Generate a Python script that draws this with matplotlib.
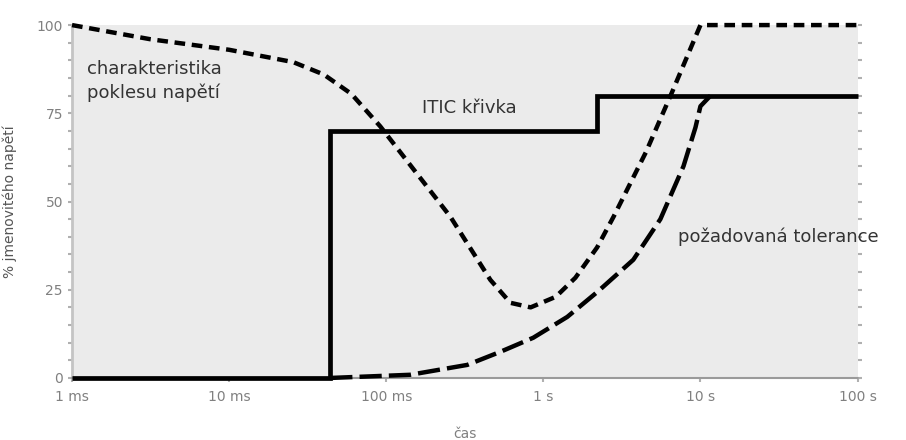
import numpy as np
import matplotlib
matplotlib.use("Agg")
from matplotlib import pyplot as plt
from matplotlib.ticker import FixedLocator, NullLocator

# ITIC curve (solid)
itic_t = [0.001, 0.044, 0.044, 2.2, 2.2, 100]
itic_v = [0, 0, 70, 70, 80, 80]

# voltage sag characteristic (short dashes)
sag_t = [0.001, 0.00314, 0.01, 0.0256, 0.04, 0.06, 0.0916, 0.15, 0.256, 0.46, 0.617,
         0.83, 1.2, 1.6, 2.2, 2.8, 4.5, 6.6, 10, 100]
sag_v = [100, 96, 93, 89.5, 86, 80.5, 71.3, 59, 45.7, 27.8, 21.3,
         20, 23, 28.4, 37, 45.7, 64, 81, 100, 100]

# required tolerance (long dashes)
tol_t = [0.044, 0.142, 0.328, 0.532, 0.863, 1.42, 2.21, 3.74, 5.56, 7.8, 9.3, 10, 11.6]
tol_v = [0, 0.9, 3.7, 7.4, 11.4, 17.3, 24.4, 33.5, 45, 60, 71, 77, 80]

xticks = [0.001, 0.01, 0.1, 1, 10, 100]
xticklabels = ["1 ms", "10 ms", "100 ms", "1 s", "10 s", "100 s"]
yticks = [0, 25, 50, 75, 100]

fig = plt.figure(figsize=(9.06, 4.4), dpi=100)
ax = fig.add_axes([0.0795, 0.141, 0.867, 0.802])
ax.set_facecolor("#ebebeb")

ax.plot(itic_t, itic_v, color="black", lw=3.4, solid_capstyle="butt",
        solid_joinstyle="miter", clip_on=False, zorder=3)
ax.plot(sag_t, sag_v, color="black", lw=3.2, dashes=(2.4, 1.5),
        dash_capstyle="butt", clip_on=False, zorder=4)
ax.plot(tol_t, tol_v, color="black", lw=3.2, dashes=(5.0, 1.6),
        dash_capstyle="butt", clip_on=False, zorder=4)

ax.set_xscale("log")
ax.set_xlim(0.001, 100)
ax.set_ylim(0, 100)

ax.xaxis.set_major_locator(FixedLocator(xticks))
ax.xaxis.set_minor_locator(NullLocator())
ax.set_xticks(xticks)
ax.set_xticklabels(xticklabels)
ax.set_yticks(yticks)
ax.yaxis.set_minor_locator(FixedLocator(np.arange(0, 101, 5)))

for s in ["top", "right"]:
    ax.spines[s].set_visible(False)
ax.spines["left"].set_color("#c4c4c4")
ax.spines["left"].set_linewidth(2)
ax.spines["bottom"].set_color("#9a9a9a")
ax.spines["bottom"].set_linestyle((0, (1, 1)))
ax.spines["bottom"].set_linewidth(1.5)

ax.tick_params(axis="both", which="both", colors="#b0b0b0", labelcolor="#808080",
               labelsize=10, length=3, width=1.5)
ax.tick_params(axis="y", which="both", right=True)
ax.tick_params(axis="x", pad=6)

ax.set_xlabel("čas", color="#808080", fontsize=10, labelpad=16)
ax.set_ylabel("% jmenovitého napětí", color="#555555", fontsize=10, labelpad=14)

ax.text(0.00125, 90, "charakteristika\npoklesu napětí", fontsize=13, color="#333333",
        va="top", ha="left", linespacing=1.35)
ax.text(0.17, 76.5, "ITIC křivka", fontsize=13, color="#333333", va="center", ha="left")
ax.text(7.2, 40, "požadovaná tolerance", fontsize=13, color="#333333",
        va="center", ha="left", clip_on=False)

fig.savefig("out.png", dpi=100)
